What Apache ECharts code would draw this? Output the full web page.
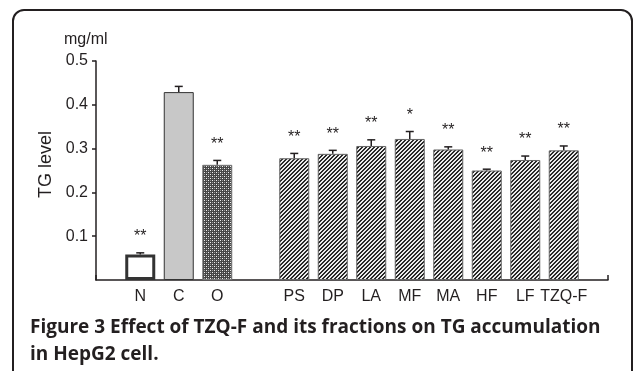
<!DOCTYPE html>
<html>
<head>
<meta charset="utf-8">
<script src="https://cdn.jsdelivr.net/npm/echarts@6/dist/echarts.min.js"></script>
<style>
  html, body { margin: 0; padding: 0; background: #fff; }
  #tg-chart { width: 634px; height: 371px; }
</style>
</head>
<body>
<div id="tg-chart"></div>
<script>
// groups on the x axis ('' is the empty slot between O and PS)
var categories = ['N', 'C', 'O', '', 'PS', 'DP', 'LA', 'MF', 'MA', 'HF', 'LF', 'TZQ-F'];
// mean TG level (mg/ml) and upper error
var tgMeans = [0.058, 0.429, 0.263, null, 0.278, 0.288, 0.306, 0.322, 0.298, 0.250, 0.274, 0.296];
var tgErrors = [0.004, 0.013, 0.010, null, 0.011, 0.008, 0.014, 0.017, 0.006, 0.003, 0.009, 0.010];
var significance = ['**', '', '**', '', '**', '**', '**', '*', '**', '**', '**', '**'];
var yTicks = [0.1, 0.2, 0.3, 0.4, 0.5];

var ink = '#231f20';

// little tiles for the bar fills
function makeTile(size, fn) {
    var c = document.createElement('canvas');
    c.width = size;
    c.height = size;
    var ctx = c.getContext('2d');
    var img = ctx.createImageData(size, size);
    for (var y = 0; y < size; y++) {
        for (var x = 0; x < size; x++) {
            var v = fn(x, y);
            var i = (y * size + x) * 4;
            img.data[i] = v; img.data[i + 1] = v; img.data[i + 2] = v; img.data[i + 3] = 255;
        }
    }
    ctx.putImageData(img, 0, 0);
    return c;
}
var hatchTile = makeTile(4, function (x, y) {
    var k = (x + y) % 4;
    return (k === 0 || k === 1) ? 40 : 235;
});
var checkTile = makeTile(4, function (x, y) {
    if ((x === 0 && y === 0) || (x === 2 && y === 2)) return 240;
    if ((x === 0 && y === 2) || (x === 2 && y === 0)) return 150;
    return 70;
});

function barStyle(idx) {
    if (idx === 0) return { color: '#fff', borderColor: '#333', borderWidth: 3 };
    if (idx === 1) return { color: '#c8c8c8', borderColor: '#333', borderWidth: 1 };
    if (idx === 2) return { color: { image: checkTile, repeat: 'repeat' }, borderColor: '#777', borderWidth: 1 };
    return { color: { image: hatchTile, repeat: 'repeat' }, borderColor: '#666', borderWidth: 1 };
}

var barData = tgMeans.map(function (v, i) {
    return { value: v, itemStyle: barStyle(i) };
});
var errData = tgMeans.map(function (v, i) {
    return v == null ? [i, null, null] : [i, v, tgErrors[i]];
});

var chart = echarts.init(document.getElementById('tg-chart'), null, { renderer: 'canvas' });
var option = {
    animation: false,
    backgroundColor: '#fff',
    textStyle: { fontFamily: 'Liberation Sans' },
    title: [
        {
            text: 'mg/ml',
            left: 59,
            top: 27,
            textStyle: { fontFamily: 'Liberation Sans', fontSize: 16, fontWeight: 'normal', color: ink }
        },
        {
            text: 'Figure 3 Effect of TZQ-F and its fractions on TG accumulation\nin HepG2 cell.',
            left: 25,
            top: 309,
            textStyle: { fontFamily: 'Open Sans', fontSize: 19, fontWeight: 'bold', color: ink, lineHeight: 27 }
        }
    ],
    graphic: [{
        type: 'rect',
        silent: true,
        shape: { x: 13, y: 10, width: 619, height: 420, r: 11 },
        style: { fill: 'none', stroke: ink, lineWidth: 2 }
    }],
    grid: [
        // outer grid: carries the axis lines
        { left: 96, right: 26, top: 61, bottom: 91 },
        // inner grid: carries the bars
        { left: 121, width: 462, top: 61, bottom: 91 }
    ],
    xAxis: [
        {
            gridIndex: 0,
            type: 'value',
            min: 0,
            max: 1,
            interval: 1,
            axisLine: { show: true, lineStyle: { color: ink, width: 1.5 } },
            axisTick: { show: true, inside: true, length: 5, lineStyle: { color: ink, width: 1.5 } },
            axisLabel: { show: false },
            splitLine: { show: false }
        },
        {
            gridIndex: 1,
            type: 'category',
            data: categories,
            axisLine: { show: false },
            axisTick: { show: false },
            axisLabel: { color: ink, fontSize: 16, margin: 9, interval: 0, fontFamily: 'Liberation Sans' }
        }
    ],
    yAxis: [
        {
            gridIndex: 0,
            type: 'value',
            min: 0,
            max: 0.5,
            interval: 0.1,
            name: 'TG level',
            nameLocation: 'middle',
            nameRotate: 90,
            nameGap: 36,
            nameTextStyle: { color: ink, fontSize: 18, fontFamily: 'Liberation Sans', padding: [0, 0, 0, 12] },
            axisLine: { show: true, lineStyle: { color: ink, width: 1.5 } },
            axisTick: { show: true, length: 4, customValues: yTicks, lineStyle: { color: ink, width: 1.5 } },
            axisLabel: { color: ink, fontSize: 16, margin: 8, customValues: yTicks, fontFamily: 'Liberation Sans' },
            splitLine: { show: false }
        },
        {
            gridIndex: 1,
            type: 'value',
            min: 0,
            max: 0.5,
            show: false
        }
    ],
    series: [
        {
            type: 'bar',
            xAxisIndex: 1,
            yAxisIndex: 1,
            barWidth: 30,
            data: barData
        },
        {
            type: 'custom',
            xAxisIndex: 1,
            yAxisIndex: 1,
            data: errData,
            z: 5,
            renderItem: function (params, api) {
                var i = api.value(0);
                var v = api.value(1);
                var e = api.value(2);
                if (isNaN(v) || v == null) return null;
                var p0 = api.coord([i, v]);
                var p1 = api.coord([i, v + e]);
                var style = { stroke: ink, lineWidth: 1.5 };
                return {
                    type: 'group',
                    children: [
                        { type: 'line', shape: { x1: p0[0], y1: p0[1], x2: p1[0], y2: p1[1] }, style: style },
                        { type: 'line', shape: { x1: p1[0] - 4, y1: p1[1], x2: p1[0] + 4, y2: p1[1] }, style: style },
                        {
                            type: 'text',
                            x: p1[0],
                            y: p1[1] - 8,
                            style: {
                                text: significance[i],
                                fill: ink,
                                font: '16px "Liberation Sans"',
                                align: 'center',
                                verticalAlign: 'bottom'
                            }
                        }
                    ]
                };
            }
        }
    ]
};
chart.setOption(option);
window.addEventListener('resize', function () {
    chart.resize();
});
</script>
</body>
</html>
